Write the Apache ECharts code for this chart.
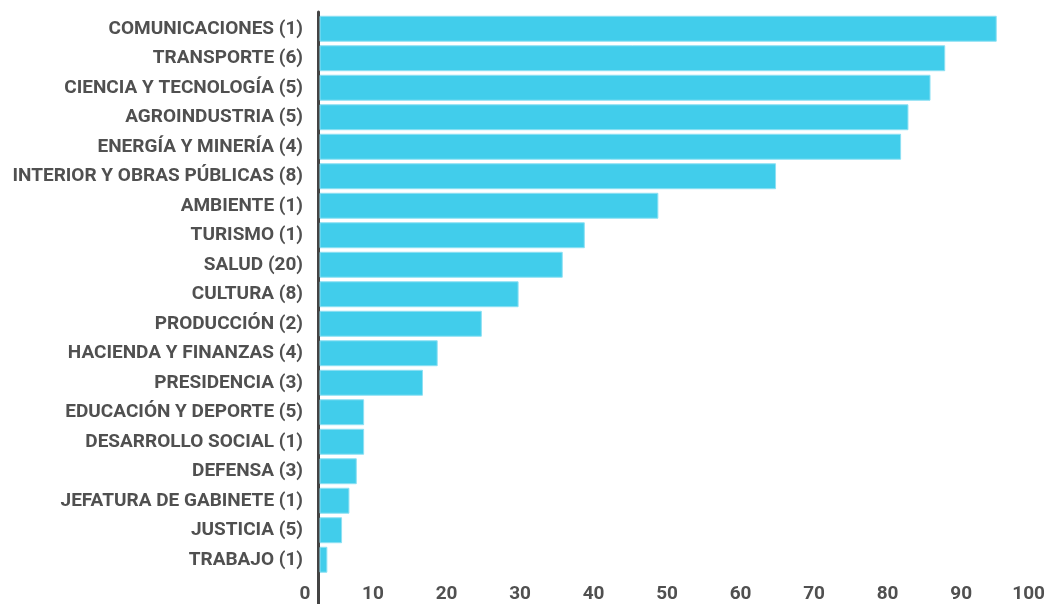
<!DOCTYPE html>
<html>
<head>
<meta charset="utf-8">
<script src="https://cdn.jsdelivr.net/npm/echarts@6/dist/echarts.min.js"></script>
<style>
html,body{margin:0;padding:0;background:#fff;}
#chart{width:1048px;height:604px;}
</style>
</head>
<body>
<div id="chart"></div>
<script>
const categories = [
  'COMUNICACIONES (1)',
  'TRANSPORTE (6)',
  'CIENCIA Y TECNOLOGÍA (5)',
  'AGROINDUSTRIA (5)',
  'ENERGÍA Y MINERÍA (4)',
  'INTERIOR Y OBRAS PÚBLICAS (8)',
  'AMBIENTE (1)',
  'TURISMO (1)',
  'SALUD (20)',
  'CULTURA (8)',
  'PRODUCCIÓN (2)',
  'HACIENDA Y FINANZAS (4)',
  'PRESIDENCIA (3)',
  'EDUCACIÓN Y DEPORTE (5)',
  'DESARROLLO SOCIAL (1)',
  'DEFENSA (3)',
  'JEFATURA DE GABINETE (1)',
  'JUSTICIA (5)',
  'TRABAJO (1)'
];
const values = [95, 88, 86, 83, 82, 65, 49, 39, 36, 30, 25, 19, 17, 9, 9, 8, 7, 6, 4];
const tickLabels = [0, 10, 20, 30, 40, 50, 60, 70, 80, 90, 100];

const textColor = '#505050';
const fontFamily = 'Roboto, "Noto Sans", sans-serif';
const maxTick = tickLabels[tickLabels.length - 1];

const chart = echarts.init(document.getElementById('chart'), null, {renderer: 'canvas'});
chart.setOption({
  animation: false,
  backgroundColor: '#fff',
  grid: [
    {left: 320, right: 14.5, top: 14, bottom: 29.5},
    {left: 299.5, right: 12, top: 14, bottom: 29.5},
    {left: 318.5, width: 100, top: 12, bottom: 0}
  ],
  xAxis: [
    {gridIndex: 0, type: 'value', min: 3, max: 100, show: false},
    {
      gridIndex: 1, type: 'value', min: tickLabels[0], max: maxTick, interval: 10,
      axisLine: {show: false}, axisTick: {show: false}, splitLine: {show: false},
      axisLabel: {
        color: textColor, fontFamily: fontFamily, fontSize: 19, fontWeight: 'bold', margin: 17,
        alignMinLabel: 'left',
        formatter: function (v) { return v === maxTick ? '{e|' + v + '}' : String(v); },
        rich: {e: {color: textColor, fontFamily: fontFamily, fontSize: 19, fontWeight: 'bold', padding: [0, 12, 0, 0]}}
      }
    },
    {gridIndex: 2, type: 'value', show: false}
  ],
  yAxis: [
    {
      gridIndex: 0, type: 'category', data: categories, inverse: true,
      axisLine: {show: false}, axisTick: {show: false}, splitLine: {show: false},
      axisLabel: {color: textColor, fontFamily: fontFamily, fontSize: 19, fontWeight: 'bold', margin: 17}
    },
    {gridIndex: 1, type: 'value', show: false},
    {
      gridIndex: 2, type: 'value', min: 0, max: 1,
      axisLine: {show: true, lineStyle: {color: '#444', width: 3}},
      axisTick: {show: false}, axisLabel: {show: false}, splitLine: {show: false}
    }
  ],
  series: [{
    type: 'bar',
    xAxisIndex: 0,
    yAxisIndex: 0,
    data: values,
    barCategoryGap: '12%',
    itemStyle: {color: '#41CDEB', borderColor: '#8ee0f3', borderWidth: 1}
  }]
});
</script>
</body>
</html>
